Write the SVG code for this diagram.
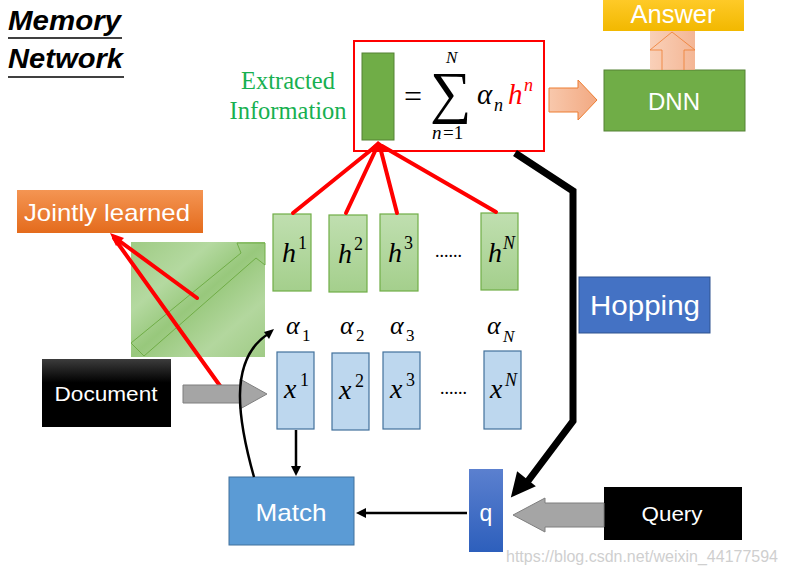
<svg xmlns="http://www.w3.org/2000/svg" width="786" height="570" viewBox="0 0 786 570">
<defs>
<style>
.sans{font-family:"Liberation Sans","Open Sans",Arial,sans-serif}
.math{font-family:"Liberation Serif","DejaVu Serif",serif;font-style:italic}
.white{fill:#ffffff}
.hbox{fill:url(#gH);stroke:#70ad47;stroke-width:1.2}
.xbox{fill:#bdd7ee;stroke:#41719c;stroke-width:1.2}
.red{stroke:#ff0000;stroke-width:4;fill:none;stroke-linecap:round}
</style>
<linearGradient id="gH" x1="0" y1="0" x2="0" y2="1"><stop offset="0" stop-color="#c0dfb0"/><stop offset="1" stop-color="#a4cf8c"/></linearGradient>
<linearGradient id="gAns" x1="0" y1="0" x2="0" y2="1"><stop offset="0" stop-color="#ffcb2a"/><stop offset="1" stop-color="#f2b800"/></linearGradient>
<linearGradient id="gJoint" x1="0" y1="0" x2="0" y2="1"><stop offset="0" stop-color="#f49553"/><stop offset="1" stop-color="#e46b1c"/></linearGradient>
<linearGradient id="gBlack" x1="0" y1="0" x2="0" y2="1"><stop offset="0" stop-color="#3c3c3c"/><stop offset="0.35" stop-color="#000"/><stop offset="1" stop-color="#000"/></linearGradient>
<linearGradient id="gQ" x1="0" y1="0" x2="0" y2="1"><stop offset="0" stop-color="#5b80cf"/><stop offset="1" stop-color="#2d5fbc"/></linearGradient>
<linearGradient id="gSal" x1="0" y1="0" x2="1" y2="0"><stop offset="0" stop-color="#f8c8ac"/><stop offset="1" stop-color="#f2a982"/></linearGradient>
<linearGradient id="gSq" x1="0" y1="0" x2="1" y2="1"><stop offset="0" stop-color="#9fcb84"/><stop offset="0.3" stop-color="#b4d9a0"/><stop offset="0.5" stop-color="#98c87c"/><stop offset="0.75" stop-color="#b3d79e"/><stop offset="1" stop-color="#a0cb86"/></linearGradient>
</defs>

<g id="title">
<text class="sans" x="8" y="30" font-size="27" font-weight="bold" font-style="italic" textLength="113" lengthAdjust="spacingAndGlyphs">Memory</text>
<line x1="8" y1="38" x2="122" y2="38" stroke="#000" stroke-width="1.5"/>
<text class="sans" x="8" y="68" font-size="27" font-weight="bold" font-style="italic" textLength="115" lengthAdjust="spacingAndGlyphs">Network</text>
<line x1="8" y1="77" x2="124" y2="77" stroke="#000" stroke-width="1.5"/>
</g>

<g id="extracted-label">
<text x="288" y="89" font-family="Liberation Serif,serif" font-size="24.5" fill="#17b050" text-anchor="middle">Extracted</text>
<text x="288" y="119" font-family="Liberation Serif,serif" font-size="24.5" fill="#17b050" text-anchor="middle">Information</text>
</g>

<g id="formula">
<rect x="354" y="41" width="190" height="110" fill="#fff" stroke="#ff0000" stroke-width="2"/>
<rect x="362" y="53" width="32" height="87" fill="#70ad47" stroke="#548235" stroke-width="1"/>
<text x="404" y="107" font-family="Liberation Serif,serif" font-size="32">=</text>
<text x="430" y="112" font-family="Liberation Serif,'DejaVu Serif',serif" font-size="58">∑</text>
<text class="math" x="446" y="63" font-size="17">N</text>
<text class="math" x="432" y="139" font-size="19">n</text>
<text x="443" y="139" font-family="Liberation Serif,serif" font-size="19">=1</text>
<text class="math" x="477" y="104" font-size="29">α</text>
<text class="math" x="494" y="111" font-size="18">n</text>
<text class="math" x="508" y="104" font-size="29" fill="#ff0000">h</text>
<text class="math" x="524" y="91" font-size="18" fill="#ff0000">n</text>
</g>

<g id="dnn">
<rect x="604" y="70" width="141" height="61" fill="#70ad47" stroke="#548235" stroke-width="1"/>
<text class="sans white" x="674" y="110" font-size="24" text-anchor="middle" textLength="52" lengthAdjust="spacingAndGlyphs">DNN</text>
</g>

<g id="answer">
<rect x="603" y="-2" width="141" height="33" fill="url(#gAns)"/>
<text class="sans white" x="673" y="23" font-size="25" text-anchor="middle" textLength="85" lengthAdjust="spacingAndGlyphs">Answer</text>
</g>

<g id="jointly">
<rect x="17" y="190" width="186" height="43" fill="url(#gJoint)"/>
<text class="sans white" x="107" y="221" font-size="24" text-anchor="middle" textLength="166" lengthAdjust="spacingAndGlyphs">Jointly learned</text>
</g>

<g id="embed-square">
<rect x="131" y="242" width="134" height="115" fill="url(#gSq)"/>
<path d="M131,343 L241,253 L237,243 L265,243 L265,265 L256,258 L144,356 Z" fill="none" stroke="#70ad47" stroke-width="1"/>
</g>

<g id="document">
<rect x="42" y="359" width="129" height="68" fill="url(#gBlack)"/>
<text class="sans white" x="106" y="401" font-size="21" text-anchor="middle" textLength="103" lengthAdjust="spacingAndGlyphs">Document</text>
</g>

<g id="query">
<rect x="604" y="487" width="138" height="53" fill="#000"/>
<text class="sans white" x="672" y="521" font-size="21" text-anchor="middle" textLength="61" lengthAdjust="spacingAndGlyphs">Query</text>
</g>

<g id="q">
<rect x="469" y="469" width="34" height="83" fill="url(#gQ)"/>
<text class="sans white" x="486" y="521" font-size="23" text-anchor="middle">q</text>
</g>

<g id="match">
<rect x="229" y="477" width="125" height="68" fill="#5b9bd5" stroke="#41719c" stroke-width="1"/>
<text class="sans white" x="291" y="521" font-size="24" text-anchor="middle" textLength="71" lengthAdjust="spacingAndGlyphs">Match</text>
</g>

<g id="hopping">
<rect x="579" y="277" width="131" height="56" fill="#4472c4" stroke="#2f528f" stroke-width="1"/>
<text class="sans white" x="645" y="315" font-size="27" text-anchor="middle" textLength="110" lengthAdjust="spacingAndGlyphs">Hopping</text>
</g>

<g id="h-memory">
<rect class="hbox" x="273" y="214" width="38" height="77"/>
<rect class="hbox" x="329" y="215" width="38" height="77"/>
<rect class="hbox" x="380" y="214" width="38" height="77"/>
<rect class="hbox" x="481" y="213" width="37" height="77"/>
<text class="math" x="282" y="262" font-size="28">h</text><text x="298" y="249" font-family="Liberation Serif,serif" font-size="18">1</text>
<text class="math" x="338" y="263" font-size="28">h</text><text x="354" y="250" font-family="Liberation Serif,serif" font-size="18">2</text>
<text class="math" x="388" y="262" font-size="28">h</text><text x="404" y="249" font-family="Liberation Serif,serif" font-size="18">3</text>
<text class="math" x="488" y="262" font-size="28">h</text><text class="math" x="503" y="249" font-size="18">N</text>
<text x="435" y="257" font-family="Liberation Serif,serif" font-size="18">......</text>
</g>

<g id="alphas">
<text class="math" x="286" y="334" font-size="26">α</text><text x="302" y="341" font-family="Liberation Serif,serif" font-size="17">1</text>
<text class="math" x="340" y="334" font-size="26">α</text><text x="356" y="341" font-family="Liberation Serif,serif" font-size="17">2</text>
<text class="math" x="390" y="334" font-size="26">α</text><text x="406" y="341" font-family="Liberation Serif,serif" font-size="17">3</text>
<text class="math" x="487" y="334" font-size="26">α</text><text class="math" x="503" y="342" font-size="17">N</text>
</g>

<g id="x-memory">
<rect class="xbox" x="277" y="352" width="37" height="77"/>
<rect class="xbox" x="332" y="353" width="37" height="77"/>
<rect class="xbox" x="383" y="352" width="37" height="77"/>
<rect class="xbox" x="484" y="351" width="37" height="78"/>
<text class="math" x="284" y="398" font-size="28">x</text><text x="300" y="386" font-family="Liberation Serif,serif" font-size="18">1</text>
<text class="math" x="339" y="399" font-size="28">x</text><text x="355" y="387" font-family="Liberation Serif,serif" font-size="18">2</text>
<text class="math" x="390" y="398" font-size="28">x</text><text x="406" y="386" font-family="Liberation Serif,serif" font-size="18">3</text>
<text class="math" x="490" y="398" font-size="28">x</text><text class="math" x="505" y="386" font-size="18">N</text>
<text x="440" y="394" font-family="Liberation Serif,serif" font-size="18">......</text>
</g>

<g id="connectors">
<rect x="650" y="31" width="45" height="39" fill="url(#gSal)" opacity="0.85"/>
<path d="M662,70 L662,50 L650,50 L672,32 L695,50 L684,50 L684,70" fill="none" stroke="#ed7d31" stroke-width="1" opacity="0.8"/>
<path d="M549,88 L578,88 L578,80 L597,100 L578,120 L578,112 L549,112 Z" fill="url(#gSal)" stroke="#ed7d31" stroke-width="1"/>
<line class="red" x1="293" y1="213" x2="376" y2="146"/>
<line class="red" x1="346" y1="213" x2="377" y2="147"/>
<line class="red" x1="397" y1="213" x2="380" y2="147"/>
<line class="red" x1="496" y1="212" x2="382" y2="146"/>
<path d="M366,152 L378,141 L390,150 Z" fill="#ff0000"/>
<line class="red" x1="197" y1="298" x2="114" y2="237"/>
<line class="red" x1="223" y1="390" x2="114" y2="238"/>
<path d="M110,233 L124,238 L116,246 Z" fill="#ff0000"/>
<path d="M183,385 L240,385 L240,379 L267,394 L240,409 L240,403 L183,403 Z" fill="#a5a5a5" stroke="#7f7f7f" stroke-width="1"/>
<path d="M604,503 L545,503 L545,498 L513,515 L545,532 L545,527 L604,527 Z" fill="#a5a5a5" stroke="#7f7f7f" stroke-width="1"/>
<line x1="296" y1="430" x2="296" y2="469" stroke="#000" stroke-width="2.5"/>
<path d="M291,466 L296,476 L301,466 Z" fill="#000"/>
<path d="M254,477 C238,420 228,360 268,334" fill="none" stroke="#000" stroke-width="2.5"/>
<path d="M264,332 L274,329 L269,339 Z" fill="#000"/>
<line x1="467" y1="513" x2="364" y2="513" stroke="#000" stroke-width="2.5"/>
<path d="M366,508 L356,513 L366,518 Z" fill="#000"/>
<polyline points="515,153 573,191 573,421 528,481" fill="none" stroke="#000" stroke-width="7"/>
<path d="M518,474 L513,495 L533,486 Z" fill="#000" stroke="#000" stroke-width="3"/>
</g>

<text id="watermark" x="506" y="562" font-family="Liberation Sans,sans-serif" font-size="16" fill="#cfcfcf" textLength="272" lengthAdjust="spacingAndGlyphs">https://blog.csdn.net/weixin_44177594</text>
</svg>
